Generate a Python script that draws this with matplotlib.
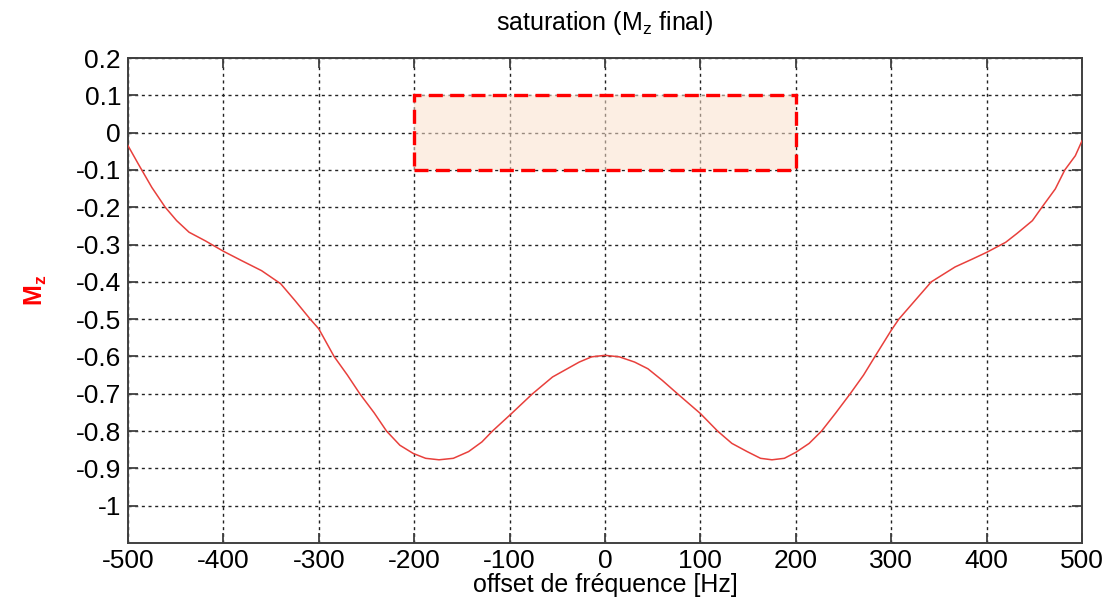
import matplotlib
matplotlib.use("Agg")
import matplotlib.pyplot as plt
from matplotlib.patches import Rectangle

# ===== data =====
freq_hz = [-500, -489, -475, -461, -449, -436, -419, -400, -381, -360, -340,
           -325, -309, -300, -284, -270, -257, -242, -229, -215, -201, -188,
           -174, -159, -143, -129, -118, -98, -76, -55, -27, -14, 0,
           15, 31, 45, 60, 76, 100, 118, 133, 149, 163, 175, 188, 200,
           214, 227, 242, 257, 271, 283, 300, 308, 325, 342, 367, 385,
           400, 420, 432, 448, 458, 472, 482, 493, 500]
mz = [-0.035, -0.085, -0.147, -0.2, -0.236, -0.267, -0.29, -0.318, -0.343, -0.37, -0.405,
      -0.45, -0.5, -0.526, -0.6, -0.65, -0.7, -0.751, -0.8, -0.838, -0.86, -0.873,
      -0.877, -0.873, -0.855, -0.829, -0.8, -0.753, -0.7, -0.655, -0.615, -0.601, -0.597,
      -0.601, -0.615, -0.633, -0.664, -0.7, -0.753, -0.8, -0.833, -0.855, -0.873, -0.877, -0.873, -0.857,
      -0.833, -0.8, -0.751, -0.7, -0.65, -0.6, -0.53, -0.5, -0.45, -0.4, -0.36, -0.339,
      -0.321, -0.294, -0.27, -0.236, -0.2, -0.151, -0.1, -0.062, -0.022]

# target band
band_x = [-200, 200]
band_y = [-0.1, 0.1]

x_ticks = [-500, -400, -300, -200, -100, 0, 100, 200, 300, 400, 500]
y_ticks = [0.2, 0.1, 0, -0.1, -0.2, -0.3, -0.4, -0.5, -0.6, -0.7, -0.8, -0.9, -1]
y_tick_labels = ["0.2", "0.1", "0", "-0.1", "-0.2", "-0.3", "-0.4", "-0.5",
                 "-0.6", "-0.7", "-0.8", "-0.9", "-1"]

FONT = "Liberation Sans"
FS_TICK = 19
FS_LABEL = 18

plt.rcParams["font.family"] = [FONT, "DejaVu Sans"]
plt.rcParams["mathtext.fontset"] = "custom"
plt.rcParams["mathtext.rm"] = FONT
plt.rcParams["mathtext.it"] = FONT
plt.rcParams["mathtext.bf"] = FONT + ":bold"

fig = plt.figure(figsize=(11.1, 6.03), dpi=100)
ax = fig.add_axes([128 / 1110, 1 - 543 / 603, 954 / 1110, 485 / 603])

ax.set_xlim(-500, 500)
ax.set_ylim(-1.1, 0.2)

ax.grid(True, color="#222222", linestyle=(0, (2.2, 2.6)), linewidth=1.0, zorder=1)
ax.set_axisbelow(True)

rect = Rectangle((band_x[0], band_y[0]), band_x[1] - band_x[0], band_y[1] - band_y[0],
                 facecolor="#fbe1cc", alpha=0.55, edgecolor="none", zorder=2)
ax.add_patch(rect)
border = Rectangle((band_x[0], band_y[0]), band_x[1] - band_x[0], band_y[1] - band_y[0],
                   facecolor="none", edgecolor="#ff0000", linewidth=2.4,
                   linestyle=(0, (4.2, 2.2)), zorder=3)
ax.add_patch(border)

ax.plot(freq_hz, mz, color="#e8403c", linewidth=1.1, zorder=4)

ax.set_xticks(x_ticks)
ax.set_xticklabels([str(v) for v in x_ticks])
ax.set_yticks(y_ticks)
ax.set_yticklabels(y_tick_labels)
ax.tick_params(direction="in", length=7, width=1.3, color="#404040",
               top=True, right=True, labelsize=FS_TICK)
ax.tick_params(axis="x", pad=4)
ax.tick_params(axis="y", pad=5)

for sp in ax.spines.values():
    sp.set_color("#404040")
    sp.set_linewidth(1.4)

ax.set_title(r"saturation (M$_\mathrm{z}$ final)", fontsize=FS_LABEL, pad=20)
ax.set_xlabel("offset de fréquence [Hz]", fontsize=FS_LABEL, va="center")
ax.xaxis.set_label_coords(0.5, -0.086)
ax.set_ylabel(r"$\mathbf{M_z}$", fontsize=18, color="red", va="center")
ax.yaxis.set_label_coords(-0.097, 0.52)

fig.savefig("out.png", dpi=100, facecolor="white")
